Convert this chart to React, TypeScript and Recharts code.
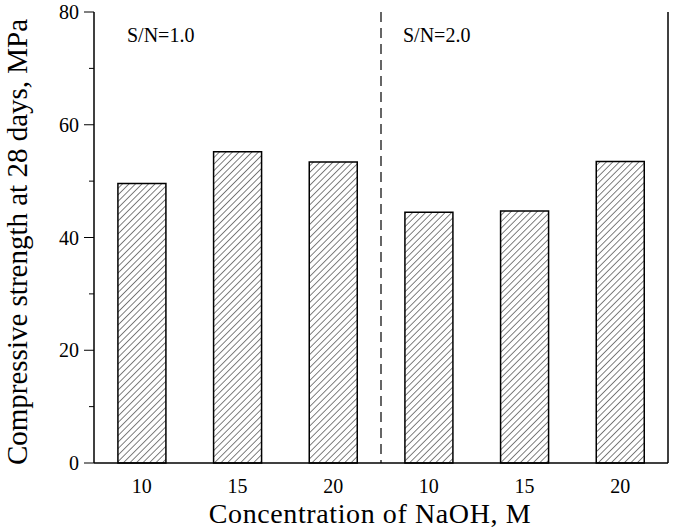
import { BarChart, Bar, XAxis, YAxis, ReferenceLine, Label } from "recharts";

const concentrations = ["10", "15", "20", "10", "15", "20"];
const strength = [49.6, 55.2, 53.4, 44.5, 44.7, 53.5];
const ratioLabels = ["S/N=1.0", "S/N=2.0"];
const yTicks = [0, 10, 20, 30, 40, 50, 60, 70, 80];
const groupSize = 3;

const data = concentrations.map((c, i) => ({ conc: c, value: strength[i], slot: i + 0.5 }));

const FONT = "'Liberation Serif', 'Times New Roman', serif";

function YTick({ x, y, payload }: any) {
  const major = payload.value % 20 === 0;
  return (
    <g>
      <line x1={x - (major ? 10 : 5)} x2={x} y1={y} y2={y} stroke="#000" strokeWidth={1} />
      {major && (
        <text x={x - 15} y={y} dy={7} textAnchor="end" fontSize={20} fontFamily={FONT} fill="#000">
          {payload.value}
        </text>
      )}
    </g>
  );
}

function XTick({ x, y, payload }: any) {
  return (
    <text x={x} y={y + 22} textAnchor="middle" fontSize={20} fontFamily={FONT} fill="#000">
      {payload.value}
    </text>
  );
}

export default function App() {
  return (
    <div style={{ position: "absolute", left: 0, top: 0, background: "#fff" }}>
      <BarChart
        width={681}
        height={530}
        data={data}
        margin={{ top: 12, right: 12, left: 0, bottom: 0 }}
        barCategoryGap="25%"
      >
        <defs>
          <pattern id="hatch" patternUnits="userSpaceOnUse" width={4.6} height={4.6} patternTransform="rotate(45)">
            <rect width={4.6} height={4.6} fill="#fff" />
            <line x1={0} y1={0} x2={0} y2={4.6} stroke="#000" strokeWidth={1} />
          </pattern>
        </defs>
        <XAxis
          xAxisId="cat"
          dataKey="conc"
          allowDuplicatedCategory
          height={67}
          tickLine={false}
          axisLine={{ stroke: "#000", strokeWidth: 1.5 }}
          tick={<XTick />}
          interval={0}
        >
          <Label
            content={() => (
              <text
                x={370}
                y={523}
                textAnchor="middle"
                fontSize={28}
                letterSpacing={0.6}
                fontFamily={FONT}
                fill="#000"
              >
                Concentration of NaOH, M
              </text>
            )}
          />
        </XAxis>
        <XAxis
          xAxisId="top"
          dataKey="slot"
          type="number"
          domain={[0, concentrations.length]}
          allowDataOverflow
          orientation="top"
          height={0}
          tick={false}
          tickLine={false}
          axisLine={{ stroke: "#000", strokeWidth: 1.5 }}
        />
        <YAxis
          yAxisId="left"
          domain={[0, 80]}
          ticks={yTicks}
          width={94}
          tickSize={0}
          tickMargin={0}
          tickLine={false}
          interval={0}
          axisLine={{ stroke: "#000", strokeWidth: 1.5 }}
          tick={<YTick />}
        >
          <Label
            content={() => (
              <text
                x={27}
                y={242}
                transform="rotate(-90 27 242)"
                textAnchor="middle"
                fontSize={29}
                fontFamily={FONT}
                fill="#000"
              >
                Compressive strength at 28 days, MPa
              </text>
            )}
          />
        </YAxis>
        <YAxis
          yAxisId="right"
          orientation="right"
          domain={[0, 80]}
          width={1}
          tick={false}
          tickLine={false}
          axisLine={{ stroke: "#000", strokeWidth: 1.5 }}
        />
        <ReferenceLine
          x={0}
          xAxisId="top"
          yAxisId="left"
          stroke="none"
          label={(p: any) => (
            <text x={p.viewBox.x + 33} y={p.viewBox.y + 30} fontSize={20} fontFamily={FONT} fill="#000">
              {ratioLabels[0]}
            </text>
          )}
        />
        <ReferenceLine
          x={groupSize}
          xAxisId="top"
          yAxisId="left"
          stroke="#000"
          strokeWidth={1.2}
          strokeDasharray="10 6"
          label={(p: any) => (
            <text x={p.viewBox.x + 22} y={p.viewBox.y + 30} fontSize={20} fontFamily={FONT} fill="#000">
              {ratioLabels[1]}
            </text>
          )}
        />
        <Bar
          dataKey="value"
          xAxisId="cat"
          yAxisId="left"
          fill="url(#hatch)"
          stroke="#000"
          strokeWidth={1.5}
          isAnimationActive={false}
        />
      </BarChart>
    </div>
  );
}
